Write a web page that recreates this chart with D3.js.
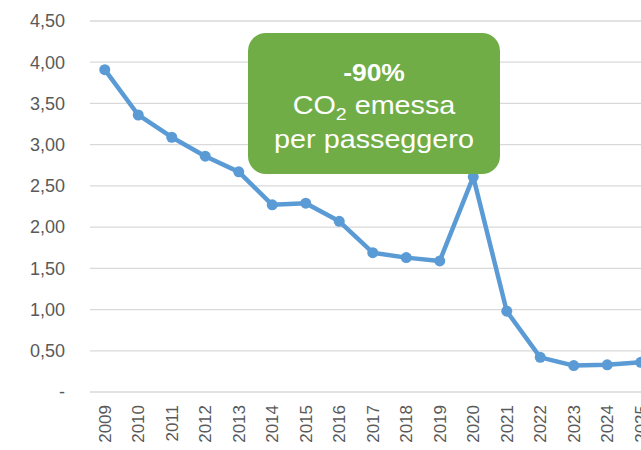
<!DOCTYPE html>
<html>
<head>
<meta charset="utf-8">
<script src="https://cdn.jsdelivr.net/npm/d3@7"></script>
<style>
body { margin: 0; background: #fff; }
svg { display: block; font-family: "Liberation Sans", Arial, sans-serif; }
</style>
</head>
<body>
<div id="chart"></div>
<script>
// data
var years = ["2009","2010","2011","2012","2013","2014","2015","2016","2017","2018","2019","2020","2021","2022","2023","2024","2025"]
var co2 = [3.91, 3.36, 3.09, 2.86, 2.67, 2.27, 2.29, 2.07, 1.69, 1.63, 1.59, 2.61, 0.98, 0.42, 0.32, 0.33, 0.36]
var yTicks = [0, 0.5, 1, 1.5, 2, 2.5, 3, 3.5, 4, 4.5]
var boxLines = ["-90%", "CO2 emessa", "per passeggero"]

var W = 641, H = 450

var svg = d3.select("#chart")
  .append("svg")
  .attr("width", W)
  .attr("height", H)

var x = d3.scaleBand()
  .domain(years)
  .range([88, 88 + years.length * 33.5])

var y = d3.scaleLinear()
  .domain([0, 4.5])
  .range([392, 21])

// gridlines
svg.append("g")
  .selectAll("line")
  .data(yTicks)
  .enter()
  .append("line")
  .attr("x1", 90)
  .attr("x2", W)
  .attr("y1", function(d) { return y(d) })
  .attr("y2", function(d) { return y(d) })
  .attr("stroke", "#d9d9d9")
  .attr("stroke-width", function(d) { return d == 0 ? 1.6 : 1.3 })

// y labels
svg.append("g")
  .selectAll("text")
  .data(yTicks)
  .enter()
  .append("text")
  .attr("x", 65)
  .attr("y", function(d) { return y(d) })
  .attr("dy", "0.35em")
  .attr("text-anchor", "end")
  .attr("fill", "#595959")
  .style("font-size", "18px")
  .text(function(d) { return d == 0 ? "-" : d3.format(".2f")(d).replace(".", ",") })

// x labels, rotated
svg.append("g")
  .selectAll("text")
  .data(years)
  .enter()
  .append("text")
  .attr("transform", function(d) {
    return "translate(" + (x(d) + x.bandwidth() / 2) + ",405) rotate(-90)"
  })
  .attr("dy", "0.35em")
  .attr("text-anchor", "end")
  .attr("fill", "#595959")
  .style("font-size", "17px")
  .text(function(d) { return d })

var pts = years.map(function(d, i) { return [d, co2[i]] })

svg.append("path")
  .datum(pts)
  .attr("fill", "none")
  .attr("stroke", "#5b9bd5")
  .attr("stroke-width", 4.5)
  .attr("stroke-linejoin", "round")
  .attr("d", d3.line()
    .x(function(d) { return x(d[0]) + x.bandwidth() / 2 })
    .y(function(d) { return y(d[1]) }))

svg.append("g")
  .selectAll("circle")
  .data(pts)
  .enter()
  .append("circle")
  .attr("cx", function(d) { return x(d[0]) + x.bandwidth() / 2 })
  .attr("cy", function(d) { return y(d[1]) })
  .attr("r", 5.5)
  .attr("fill", "#5b9bd5")

// green callout
svg.append("rect")
  .attr("x", 248)
  .attr("y", 33)
  .attr("width", 252)
  .attr("height", 141)
  .attr("rx", 18)
  .attr("fill", "#70ad47")

// the text in the box is a bit wider than normal, stretch it horizontally
var box = svg.append("g")
  .attr("transform", "translate(374,0) scale(1.15,1)")

box.append("text")
  .attr("x", 0)
  .attr("y", 81)
  .attr("text-anchor", "middle")
  .attr("fill", "#fff")
  .style("font-size", "23px")
  .style("font-weight", "bold")
  .text(boxLines[0])

var co = box.append("text")
  .attr("x", 0)
  .attr("y", 114)
  .attr("text-anchor", "middle")
  .attr("fill", "#fff")
  .style("font-size", "25px")
co.append("tspan").text("CO")
co.append("tspan").attr("dy", 6).style("font-size", "17px").text("2")
co.append("tspan").attr("dy", -6).text(" emessa")

box.append("text")
  .attr("x", 0)
  .attr("y", 148)
  .attr("text-anchor", "middle")
  .attr("fill", "#fff")
  .style("font-size", "25px")
  .text(boxLines[2])
</script>
</body>
</html>
